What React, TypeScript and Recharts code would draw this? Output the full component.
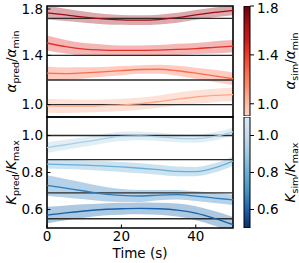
import React from 'react';
import { ComposedChart, BarChart, Bar, Line, Area, XAxis, YAxis, ReferenceLine, ReferenceArea } from 'recharts';

const FONT = 'DejaVu Sans, sans-serif';

// time axis
const times = [0, 5, 10, 15, 20, 25, 30, 35, 40, 45, 50];
const timeTicks = [0, 20, 40];

// alpha panel (top)
const alphaSim = [1.7, 1.4, 1.2, 1.0];
const alphaPred17 = [1.745, 1.728, 1.71, 1.695, 1.688, 1.685, 1.69, 1.705, 1.728, 1.748, 1.765];
const alphaPred14 = [1.5, 1.47, 1.45, 1.443, 1.44, 1.44, 1.443, 1.448, 1.455, 1.465, 1.475];
const alphaPred12 = [1.255, 1.252, 1.258, 1.266, 1.276, 1.285, 1.287, 1.275, 1.255, 1.233, 1.21];
const alphaPred10 = [0.99, 0.988, 0.988, 0.992, 0.998, 1.008, 1.025, 1.045, 1.062, 1.075, 1.082];
const alphaBand17 = [0.055, 0.05, 0.045, 0.042, 0.04, 0.04, 0.04, 0.04, 0.04, 0.04, 0.04];
const alphaBand14 = [0.06, 0.055, 0.05, 0.045, 0.04, 0.04, 0.04, 0.045, 0.045, 0.05, 0.05];
const alphaBand12 = [0.055, 0.05, 0.045, 0.04, 0.037, 0.035, 0.037, 0.04, 0.045, 0.05, 0.05];
const alphaBand10 = [0.055, 0.055, 0.052, 0.05, 0.05, 0.05, 0.05, 0.052, 0.054, 0.055, 0.055];
const alphaTicks = [1.0, 1.4, 1.8];
const alphaRange = [0.9, 1.8];

// K panel (bottom)
const kSim = [1.0, 0.87, 0.69, 0.55];
const kPred100 = [0.935, 0.95, 0.965, 0.982, 0.995, 0.998, 0.993, 0.985, 0.983, 0.995, 1.02];
const kPred087 = [0.845, 0.843, 0.84, 0.836, 0.83, 0.823, 0.815, 0.806, 0.805, 0.825, 0.862];
const kPred069 = [0.73, 0.715, 0.7, 0.684, 0.676, 0.673, 0.678, 0.68, 0.672, 0.662, 0.652];
const kPred055 = [0.57, 0.582, 0.592, 0.6, 0.604, 0.606, 0.604, 0.597, 0.58, 0.552, 0.518];
const kBand100 = [0.028, 0.027, 0.026, 0.025, 0.025, 0.024, 0.023, 0.022, 0.022, 0.022, 0.022];
const kBand087 = [0.023, 0.024, 0.025, 0.026, 0.027, 0.027, 0.027, 0.026, 0.025, 0.025, 0.025];
const kBand069 = [0.055, 0.05, 0.045, 0.04, 0.035, 0.032, 0.028, 0.026, 0.026, 0.027, 0.028];
const kBand055 = [0.045, 0.04, 0.036, 0.033, 0.032, 0.032, 0.033, 0.035, 0.038, 0.04, 0.042];
const kTicks = [0.6, 0.8, 1.0];
const kRange = [0.5, 1.1];

const redColors = ['#9a0c14', '#e3302a', '#fb6c4d', '#fca88b'];
const blueColors = ['#a9cfe5', '#6aaed6', '#2e7ebc', '#1561a9'];

function buildRows(mids: number[][], bands: number[][]) {
  return times.map((t, i) => {
    const row: any = { t };
    mids.forEach((m, k) => {
      row['m' + k] = m[i];
      row['b' + k] = [m[i] - bands[k][i], m[i] + bands[k][i]];
    });
    return row;
  });
}

const alphaRows = buildRows(
  [alphaPred17, alphaPred14, alphaPred12, alphaPred10],
  [alphaBand17, alphaBand14, alphaBand12, alphaBand10]
);
const kRows = buildRows(
  [kPred100, kPred087, kPred069, kPred055],
  [kBand100, kBand087, kBand069, kBand055]
);

function RotLabel({ cx, cy, main, sub1, sub2 }: any) {
  return (
    <text
      transform={`translate(${cx},${cy}) rotate(-90)`}
      textAnchor="middle"
      fontFamily={FONT}
      fontSize={13.5}
      fill="#000"
    >
      <tspan fontStyle="italic">{main}</tspan>
      <tspan fontSize={9.5} dy={3}>{sub1}</tspan>
      <tspan dy={-3}>/</tspan>
      <tspan fontStyle="italic">{main}</tspan>
      <tspan fontSize={9.5} dy={3}>{sub2}</tspan>
    </text>
  );
}

const LeftTick = (props: any) => {
  const { x, y, payload } = props;
  return (
    <g>
      <line x1={x} y1={y} x2={x + 3.5} y2={y} stroke="#000" strokeWidth={1} />
      <text x={x - 4} y={y} dy={4.8} textAnchor="end" fontFamily={FONT} fontSize={13.5} fill="#000">
        {Number(payload.value).toFixed(1)}
      </text>
    </g>
  );
};

const makeBottomTick = (showLabel: boolean) => (props: any) => {
  const { x, y, payload } = props;
  return (
    <g>
      <line x1={x} y1={y} x2={x} y2={y - 3.5} stroke="#000" strokeWidth={1} />
      {showLabel && (
        <text x={x} y={y + 12.5} textAnchor="middle" fontFamily={FONT} fontSize={13.5} fill="#000">
          {payload.value}
        </text>
      )}
    </g>
  );
};

function Panel({ rows, sims, colors, range, yTicks, top, bottom, showX, main, sub1, sub2 }: any) {
  return (
    <div style={{ position: 'absolute', left: 0, top: 0 }}>
      <ComposedChart
        width={299}
        height={263}
        data={rows}
        margin={{ top, right: 66, bottom: showX ? 0 : 263 - bottom, left: 0 }}
      >
        <XAxis
          dataKey="t"
          type="number"
          domain={[0, 50]}
          ticks={timeTicks}
          axisLine={false}
          tickLine={false}
          tickSize={0}
          tickMargin={0}
          height={showX ? 263 - bottom : 0}
          tick={makeBottomTick(showX)}
          label={
            showX
              ? {
                  content: ({ viewBox }: any) => (
                    <text
                      x={viewBox.x + viewBox.width / 2}
                      y={viewBox.y + 30}
                      textAnchor="middle"
                      fontFamily={FONT}
                      fontSize={13.5}
                      fill="#000"
                    >
                      Time (s)
                    </text>
                  ),
                }
              : undefined
          }
        />
        <YAxis
          type="number"
          domain={range}
          ticks={yTicks}
          allowDataOverflow
          width={47}
          axisLine={false}
          tickLine={false}
          tickSize={0}
          tickMargin={0}
          tick={LeftTick}
          label={{
            content: ({ viewBox }: any) => (
              <RotLabel cx={viewBox.x + 16} cy={viewBox.y + viewBox.height / 2} main={main} sub1={sub1} sub2={sub2} />
            ),
          }}
        />
        {sims.map((s: number, k: number) => (
          <Area
            key={'b' + k}
            dataKey={'b' + k}
            type="monotone"
            stroke="none"
            fill={colors[k]}
            fillOpacity={0.35}
            isAnimationActive={false}
          />
        ))}
        {sims.map((s: number) => (
          <ReferenceLine key={'r' + s} y={s} stroke="#2b2b2b" strokeWidth={1.3} />
        ))}
        {sims.map((s: number, k: number) => (
          <Line
            key={'m' + k}
            dataKey={'m' + k}
            type="monotone"
            stroke={colors[k]}
            strokeWidth={1.3}
            dot={false}
            isAnimationActive={false}
          />
        ))}
        <ReferenceArea x1={0} x2={50} y1={range[0]} y2={range[1]} fill="none" stroke="#000" strokeWidth={1.6} />
      </ComposedChart>
    </div>
  );
}

function ColorBar({ id, stops, range, ticks, top, bottom, main, sub1, sub2 }: any) {
  return (
    <div style={{ position: 'absolute', left: 0, top: 0 }}>
      <BarChart
        width={299}
        height={263}
        data={[{ name: id, span: range }]}
        margin={{ top, right: 0, bottom: 263 - bottom, left: 244 }}
        barCategoryGap={0}
      >
        <defs>
          <linearGradient id={id} x1="0" y1="0" x2="0" y2="1">
            {stops.map((s: any) => (
              <stop key={s[0]} offset={s[0]} stopColor={s[1]} />
            ))}
          </linearGradient>
        </defs>
        <XAxis dataKey="name" hide />
        <YAxis
          orientation="right"
          type="number"
          domain={range}
          ticks={ticks}
          allowDataOverflow
          width={49}
          axisLine={false}
          tickSize={4}
          tickMargin={3}
          tickLine={{ stroke: '#000' }}
          tick={{ fill: '#000', fontSize: 13.5, fontFamily: FONT }}
          tickFormatter={(v: number) => v.toFixed(1)}
          label={{
            content: ({ viewBox }: any) => (
              <RotLabel cx={viewBox.x + 45} cy={viewBox.y + viewBox.height / 2} main={main} sub1={sub1} sub2={sub2} />
            ),
          }}
        />
        <Bar dataKey="span" fill={`url(#${id})`} stroke="#000" strokeWidth={1} isAnimationActive={false} />
      </BarChart>
    </div>
  );
}

const redStops = [
  [0, '#67000d'],
  [0.15, '#a50f15'],
  [0.3, '#cb181d'],
  [0.45, '#ef3b2c'],
  [0.6, '#fb6a4a'],
  [0.74, '#fc9272'],
  [0.88, '#fcbba1'],
  [1, '#fdd5c3'],
];
const blueStops = [
  [0, '#dbe9f6'],
  [0.17, '#c6dbef'],
  [0.33, '#9ecae1'],
  [0.5, '#6baed6'],
  [0.67, '#4292c6'],
  [0.83, '#1a62aa'],
  [1, '#08306b'],
];

export default function App() {
  return (
    <div style={{ position: 'absolute', left: 0, top: 0, width: 299, height: 263, background: '#fff' }}>
      <Panel
        rows={alphaRows}
        sims={alphaSim}
        colors={redColors}
        range={alphaRange}
        yTicks={alphaTicks}
        top={6}
        bottom={117}
        showX={false}
        main="α"
        sub1="pred"
        sub2="min"
      />
      <Panel
        rows={kRows}
        sims={kSim}
        colors={blueColors}
        range={kRange}
        yTicks={kTicks}
        top={117}
        bottom={228}
        showX={true}
        main="K"
        sub1="pred"
        sub2="max"
      />
      <ColorBar id="cbRed" stops={redStops} range={alphaRange} ticks={alphaTicks} top={6} bottom={116} main="α" sub1="sim" sub2="min" />
      <ColorBar id="cbBlue" stops={blueStops} range={kRange} ticks={kTicks} top={117} bottom={228} main="K" sub1="sim" sub2="max" />
    </div>
  );
}
